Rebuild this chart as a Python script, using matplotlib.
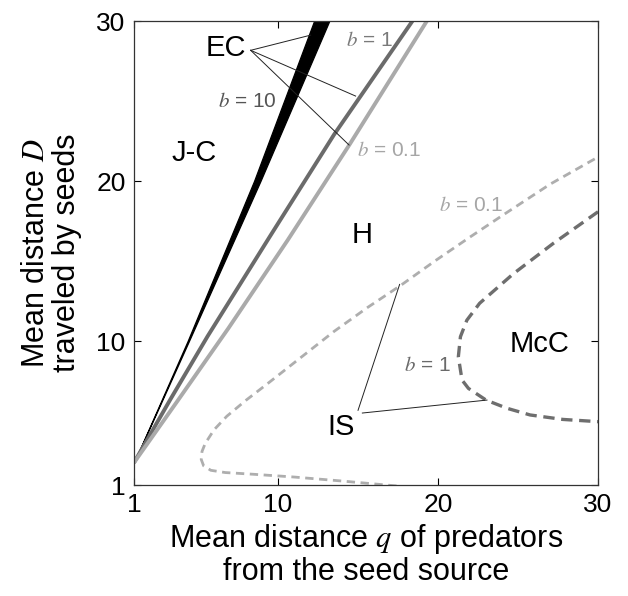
import matplotlib
matplotlib.use('Agg')
import matplotlib.pyplot as plt

plt.rcParams['font.family'] = ['Liberation Sans', 'DejaVu Sans']
plt.rcParams['mathtext.fontset'] = 'stix'

# solid boundaries (q, D)
ec10_D = [2.4, 10.0, 20.0, 30.0]
ec10_left_q = [1.0, 4.35, 8.5, 12.25]
ec10_right_q = [1.0, 4.43, 8.9, 13.2]

b1_q = [1.0, 3.3, 5.6, 9.5, 13.5, 18.4]
b1_D = [2.4, 6.4, 10.3, 16.55, 22.9, 30.0]

b01_q = [1.0, 3.75, 6.9, 10.6, 14.45, 19.3]
b01_D = [2.4, 6.3, 10.8, 16.3, 22.25, 30.0]

# dashed boundaries
is01_q = [20.0, 17.0, 14.0, 11.0, 8.5, 6.7, 5.8, 5.35, 5.2, 5.25, 5.45, 6.0, 6.8,
          8.0, 9.3, 11.4, 13.5, 15.6, 17.7, 19.8, 22.0, 24.1, 27.0, 30.0]
is01_D = [0.72, 0.98, 1.25, 1.5, 1.67, 1.78, 1.92, 2.2, 2.6, 3.1, 3.6, 4.45, 5.3,
          6.3, 7.3, 8.95, 10.6, 12.1, 13.5, 15.0, 16.5, 17.9, 19.8, 21.5]

is1_q = [30.0, 27.2, 24.7, 22.6, 21.8, 21.4, 21.27, 21.5, 21.9, 23.0, 24.3, 25.75,
         27.8, 30.0]
is1_D = [18.08, 16.1, 14.2, 12.36, 11.3, 10.27, 9.02, 7.56, 7.04, 6.31, 5.8, 5.38,
         5.1, 4.96]

ticks = [1, 10, 20, 30]

fig = plt.figure(figsize=(6.28, 5.96), dpi=100)
ax = fig.add_axes([0.2134, 0.1862, 0.7389, 0.7785])

ax.fill_betweenx(ec10_D, ec10_left_q, ec10_right_q, color='black', lw=0.9)
ax.plot(b1_q, b1_D, color='#6b6b6b', lw=2.8, solid_capstyle='butt')
ax.plot(b01_q, b01_D, color='#aaaaaa', lw=2.8, solid_capstyle='butt')
ax.plot(is01_q, is01_D, color='#aeaeae', lw=2.0, ls=(0, (3, 2)))
ax.plot(is1_q, is1_D, color='#6e6e6e', lw=2.4, ls=(0, (3.4, 2.0)))

# pointer lines
ec_from = (8.29, 28.17)
ec_to = [(12.04, 29.12), (14.85, 25.31), (14.44, 22.25)]
for q, d in ec_to:
    ax.plot([ec_from[0], q], [ec_from[1], d], color='#222222', lw=0.7)
ax.plot([15.0, 17.6], [5.67, 13.54], color='#222222', lw=0.7)
ax.plot([15.27, 23.06], [5.5, 6.31], color='#222222', lw=0.7)

# region labels
for txt, q, d in [('EC', 6.77, 28.29), ('J-C', 4.75, 21.77), ('H', 15.27, 16.63),
                  ('IS', 13.96, 4.63), ('McC', 26.375, 9.81)]:
    ax.text(q, d, txt, fontsize=21, ha='center', va='center')

# b labels
for txt, q, d, c in [(r'$b$ = 10', 8.08, 24.94, '#555555'),
                     (r'$b$ = 1', 15.69, 28.81, '#7a7a7a'),
                     (r'$b$ = 0.1', 16.94, 21.92, '#a6a6a6'),
                     (r'$b$ = 0.1', 22.06, 18.47, '#a6a6a6'),
                     (r'$b$ = 1', 19.34, 8.5, '#6a6a6a')]:
    ax.text(q, d, txt, fontsize=15, ha='center', va='center', color=c)

ax.set_xlim(1, 30)
ax.set_ylim(1, 30)
ax.set_xticks(ticks)
ax.set_yticks(ticks)
ax.tick_params(direction='in', length=5, width=0.8, top=True, right=True,
               labelsize=19, pad=6)
for s in ax.spines.values():
    s.set_linewidth(0.9)
    s.set_color('#333333')

ax.set_xlabel('Mean distance $q$ of predators\nfrom the seed source', fontsize=22,
              linespacing=1.05)
ax.set_ylabel('Mean distance $D$\ntraveled by seeds', fontsize=22, linespacing=1.05)
ax.xaxis.set_label_coords(0.5, -0.08)
ax.yaxis.set_label_coords(-0.112, 0.5)

fig.savefig('out.png', dpi=100)
